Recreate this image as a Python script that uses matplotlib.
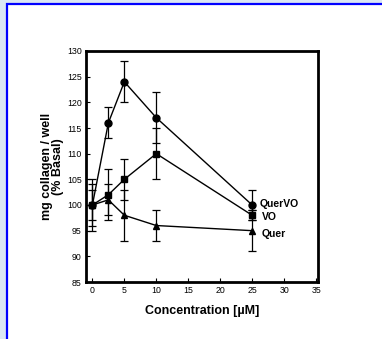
import matplotlib
matplotlib.use("Agg")
import matplotlib.pyplot as plt
from matplotlib.patches import Rectangle

plt.rcParams['font.family'] = ['Liberation Sans', 'DejaVu Sans']

conc = [0, 2.5, 5, 10, 25]
quervo = [100, 116, 124, 117, 100]
quervo_err = [5, 3, 4, 5, 3]
vo = [100, 102, 105, 110, 98]
vo_err = [3, 5, 4, 5, 1]
quer = [100, 101, 98, 96, 95]
quer_err = [4, 3, 5, 3, 4]
series_labels = ["QuerVO", "VO", "Quer"]
xticks = [0, 5, 10, 15, 20, 25, 30, 35]
yticks = [85, 90, 95, 100, 105, 110, 115, 120, 125, 130]

W, H = 382, 339
fig = plt.figure(figsize=(W / 100, H / 100), dpi=100)
fig.patch.set_facecolor('#dbe7f4')
# white panel with blue border
fig.add_artist(Rectangle((7 / W, -0.05), 1.1, 1 - 4 / H + 0.05, transform=fig.transFigure,
                         facecolor='white', edgecolor='#0000ff', linewidth=1.6, zorder=-5))

ax = fig.add_axes([86 / W, 1 - 282 / H, (318 - 86) / W, (282 - 51) / H])
ax.set_zorder(2)
ax.set_facecolor('white')

kw = dict(color='black', lw=1.0, capsize=2.8, elinewidth=0.9, capthick=0.9, markersize=5)
ax.errorbar(conc, quervo, yerr=quervo_err, marker='o', **kw)
ax.errorbar(conc, vo, yerr=vo_err, marker='s', **kw)
ax.errorbar(conc, quer, yerr=quer_err, marker='^', **kw)

ax.set_xlim(-1, 35.3)
ax.set_ylim(85, 130)
ax.set_xticks(xticks)
ax.set_yticks(yticks)
ax.tick_params(direction='in', length=3, width=0.8, labelsize=6.3, pad=3)
ax.tick_params(axis='x', top=False)
for s in ax.spines.values():
    s.set_linewidth(2)

ax.text(26.2, 100.2, series_labels[0], fontsize=7.5, fontweight='bold', va='center')
ax.text(26.5, 97.6, series_labels[1], fontsize=7.5, fontweight='bold', va='center')
ax.text(26.5, 94.3, series_labels[2], fontsize=7.5, fontweight='bold', va='center')

ax.set_xlabel('Concentration [µM]', fontsize=9, fontweight='bold', labelpad=7)
ax.set_ylabel('mg collagen / well\n(% Basal)', fontsize=9, fontweight='bold', labelpad=2,
              linespacing=0.9)

fig.savefig('out.png', dpi=100, facecolor=fig.get_facecolor())
